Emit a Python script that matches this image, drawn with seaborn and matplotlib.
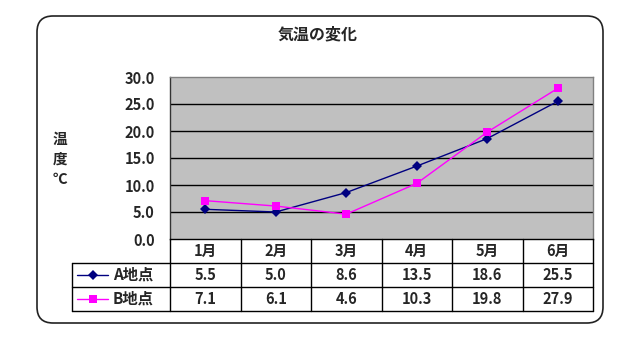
import matplotlib
matplotlib.use("Agg")
import matplotlib.pyplot as plt
import seaborn as sns
import pandas as pd
from matplotlib.patches import FancyBboxPatch

# data
months = ['1月', '2月', '3月', '4月', '5月', '6月']
temp_a = [5.5, 5.0, 8.6, 13.5, 18.6, 25.5]
temp_b = [7.1, 6.1, 4.6, 10.3, 19.8, 27.9]
sites = ['A地点', 'B地点']
yticks = [0, 5, 10, 15, 20, 25, 30]

colors = {'A地点': '#000080', 'B地点': '#FF00FF'}
markers = {'A地点': 'D', 'B地点': 's'}

sns.set_style('white')
plt.rcParams['font.family'] = ['Noto Sans CJK JP', 'DejaVu Sans']

W, H = 633, 344
fig = plt.figure(figsize=(W / 100, H / 100), dpi=100)


def box(x0, y0, x1, y1):
    # pixel box (top-left origin) -> figure fraction rect
    return [x0 / W, 1 - y1 / H, (x1 - x0) / W, (y1 - y0) / H]


# rounded outer frame
frame = FancyBboxPatch((0.37, 0.21), 5.66, 3.07,
                       boxstyle='round,pad=0,rounding_size=0.16',
                       transform=fig.dpi_scale_trans, facecolor='none',
                       edgecolor='#222222', linewidth=1.2, zorder=-1)
fig.patches.append(frame)

# plot area
ax = fig.add_axes(box(170, 77, 593, 239))
ax.set_facecolor('#C0C0C0')
pos = list(range(len(months)))
df = pd.DataFrame({
    'x': pos * 2,
    'temp': temp_a + temp_b,
    'site': [sites[0]] * len(months) + [sites[1]] * len(months),
})
sns.lineplot(data=df, x='x', y='temp', hue='site', style='site',
             palette=colors, markers=markers, dashes=False,
             markersize=5.5, linewidth=1, markeredgewidth=0,
             legend=False, ax=ax, zorder=3)
ax.set_xlim(-0.5, len(months) - 0.5)
ax.set_ylim(0, 30)
ax.set_yticks(yticks)
ax.set_yticklabels([f'{v:.1f}' for v in yticks], fontsize=10.5, fontweight='bold')
ax.set_xticks([])
ax.tick_params(axis='y', length=0, pad=11)
for v in yticks[1:-1]:
    ax.axhline(v, color='black', linewidth=1, zorder=1)
ax.set_xlabel('')
ax.set_ylabel('')
for side in ['top', 'right']:
    ax.spines[side].set_color('#808080')
ax.spines['left'].set_color('#333333')
ax.spines['bottom'].set_color('black')
for s in ax.spines.values():
    s.set_linewidth(1)

# data table below
col_px = (593 - 170) / len(months)
leg_w = (170 - 72) / col_px
tx = fig.add_axes(box(72, 239, 593, 311))
left = -0.5 - leg_w
tx.set_xlim(left, len(months) - 0.5)
tx.set_ylim(3, 0)
tx.axis('off')
lw = 1
for k in range(len(months) + 1):
    tx.plot([k - 0.5, k - 0.5], [0, 3], color='black', lw=lw, clip_on=False)
tx.plot([left, left], [1, 3], color='black', lw=lw, clip_on=False)
for r in [1, 2, 3]:
    tx.plot([left, len(months) - 0.5], [r, r], color='black', lw=lw, clip_on=False)

txt = dict(fontsize=10.5, fontweight='bold', ha='center', va='center')
for i, m in enumerate(months):
    tx.text(i, 0.5, m, **txt)
    tx.text(i, 1.5, f'{temp_a[i]:.1f}', **txt)
    tx.text(i, 2.5, f'{temp_b[i]:.1f}', **txt)

for r, name in enumerate(sites):
    y = 1.5 + r
    x0 = left + 5 / col_px
    x1 = left + 36 / col_px
    tx.plot([x0, x1], [y, y], color=colors[name], lw=1, clip_on=False)
    tx.plot([(x0 + x1) / 2], [y], marker=markers[name], color=colors[name],
            markersize=5.5, markeredgewidth=0, clip_on=False)
    tx.text(left + 41 / col_px, y, name, fontsize=11, fontweight='bold',
            ha='left', va='center')

fig.text(318 / W, 1 - 34 / H, '気温の変化', fontsize=11.5, fontweight='bold',
         ha='center', va='center')
fig.text(60 / W, 1 - 159 / H, '温\n度\n℃', fontsize=10.5, fontweight='bold',
         ha='center', va='center', linespacing=1.3)

fig.savefig('out.png', dpi=100)
